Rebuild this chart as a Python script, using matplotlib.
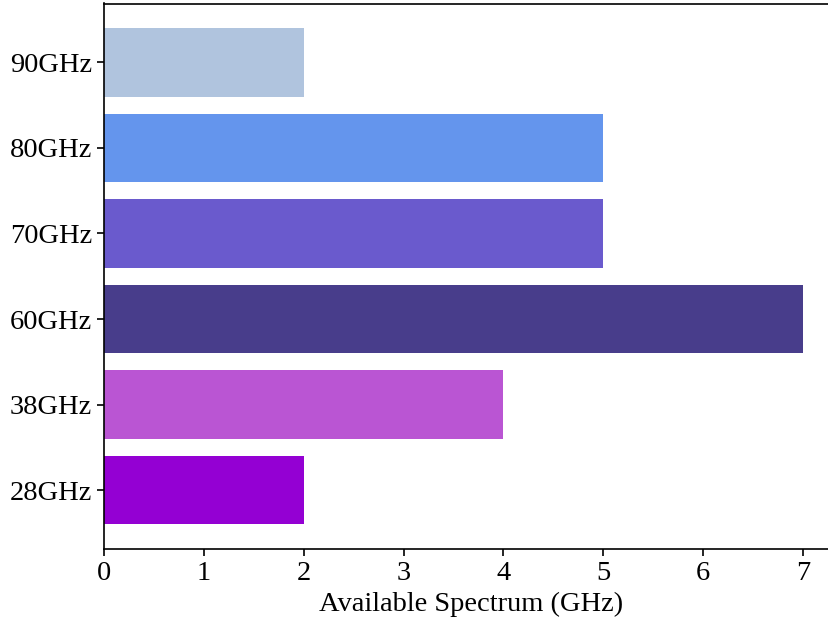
import matplotlib
matplotlib.use('Agg')
import matplotlib.pyplot as plt

plt.rcParams['font.family'] = 'Liberation Serif'
plt.rcParams['font.size'] = 20.5

bands = ['28GHz', '38GHz', '60GHz', '70GHz', '80GHz', '90GHz']
spectrum = [2, 4, 7, 5, 5, 2]
colors = ['darkviolet', 'mediumorchid', 'darkslateblue', 'slateblue', 'cornflowerblue', 'lightsteelblue']

fig = plt.figure(figsize=(8.29, 6.25), dpi=100)
ax = fig.add_axes([0.1255, 0.1216, 0.8854, 0.8728])
ax.barh(bands, spectrum, color=colors)
ax.set_xlabel('Available Spectrum (GHz)')
ax.spines['right'].set_visible(False)
ax.tick_params(width=1.2, length=5)
for s in ax.spines.values():
    s.set_linewidth(1.2)

plt.savefig('out.png', dpi=100)
